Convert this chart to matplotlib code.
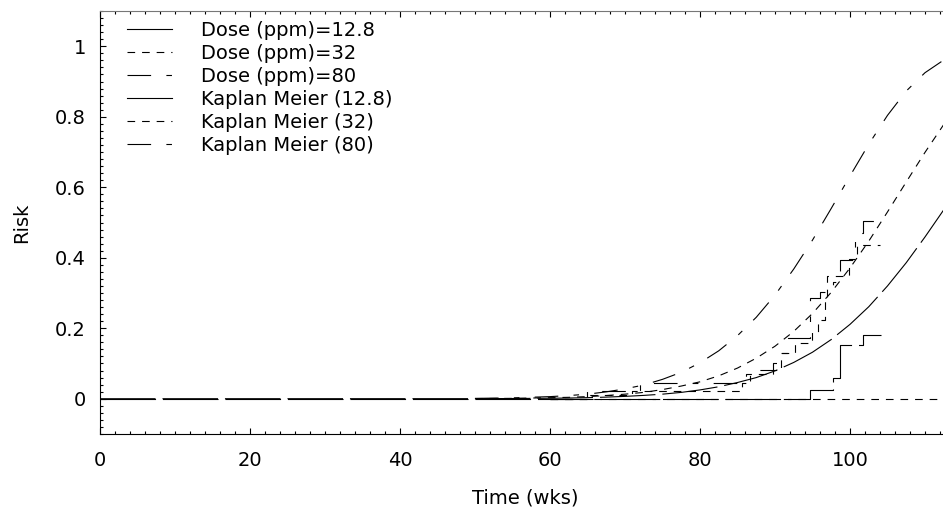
import matplotlib
matplotlib.use("Agg")
import matplotlib.pyplot as plt
from matplotlib.lines import Line2D
from matplotlib.ticker import MultipleLocator

plt.rcParams["font.family"] = ["DejaVu Sans"]
plt.rcParams["lines.scale_dashes"] = False

# fitted risk curves
model_x = [0, 50, 55, 60, 62.5, 65, 67.5, 70, 72.5, 75, 77.5, 80, 82.5, 85, 87.5,
           90, 92.5, 95, 97.5, 100, 102.5, 105, 107.5, 110, 112.5]
risk_12_8 = [0, 0.0002, 0.0006, 0.0014, 0.002, 0.003, 0.0046, 0.0067, 0.0095, 0.013,
             0.018, 0.025, 0.034, 0.046, 0.060, 0.079, 0.103, 0.132, 0.168, 0.211,
             0.261, 0.320, 0.386, 0.459, 0.536]
risk_32 = [0, 0.0005, 0.001, 0.003, 0.004, 0.006, 0.009, 0.013, 0.018, 0.026,
           0.036, 0.048, 0.065, 0.087, 0.115, 0.149, 0.191, 0.242, 0.302, 0.371,
           0.447, 0.530, 0.615, 0.699, 0.778]
risk_80 = [0, 0.001, 0.0025, 0.006, 0.009, 0.013, 0.0195, 0.028, 0.039, 0.055,
           0.075, 0.102, 0.136, 0.179, 0.231, 0.294, 0.368, 0.450, 0.540, 0.632,
           0.722, 0.804, 0.873, 0.925, 0.961]

# Kaplan Meier step estimates
km_12_8_t = [0, 94.7, 97.7, 98.7, 101.8, 104.1]
km_12_8_r = [0, 0.026, 0.06, 0.153, 0.18, 0.18]
km_32_t = [60, 65.0, 70.9, 85.6, 86.2, 89.8, 90.8, 92.7, 95.0, 95.7, 96.7, 97.0,
           99.9, 101.0, 104.0]
km_32_r = [0, 0.012, 0.021, 0.045, 0.071, 0.082, 0.13, 0.159, 0.19, 0.224, 0.28,
           0.347, 0.397, 0.437, 0.437]
km_80_t = [60, 64.9, 72.0, 86.7, 89.8, 90.7, 91.8, 94.7, 96.0, 97.7, 98.7, 100.7,
           101.8, 104.0]
km_80_r = [0, 0.021, 0.045, 0.082, 0.10, 0.13, 0.173, 0.287, 0.304, 0.33, 0.395,
           0.469, 0.503, 0.503]
# zero line running out to the right edge
zero_t = [60, 112.5]
zero_r = [0, 0]

dash_12_8 = (40, 5)
dash_32 = (5.5, 5)
dash_80 = (17, 11, 4, 11)

fig = plt.figure(figsize=(9.43, 5.08), dpi=100)
ax = fig.add_axes([0.106, 0.1457, 0.894, 0.8326])

lw = 0.8
ax.plot(model_x, risk_12_8, color="black", lw=lw, dashes=dash_12_8)
ax.plot(model_x[1:], risk_32[1:], color="black", lw=lw, dashes=dash_32)
ax.plot(model_x[1:], risk_80[1:], color="black", lw=lw, dashes=dash_80)
ax.step(km_12_8_t, km_12_8_r, where="post", color="black", lw=lw, dashes=dash_12_8)
ax.step(km_32_t, km_32_r, where="post", color="black", lw=lw, dashes=dash_32)
ax.step(km_80_t, km_80_r, where="post", color="black", lw=lw, dashes=dash_80)
ax.plot(zero_t, zero_r, color="black", lw=lw, dashes=dash_32)

handles = [
    Line2D([], [], color="black", lw=lw),
    Line2D([], [], color="black", lw=lw, dashes=dash_32),
    Line2D([], [], color="black", lw=lw, dashes=dash_80),
    Line2D([], [], color="black", lw=lw),
    Line2D([], [], color="black", lw=lw, dashes=dash_32),
    Line2D([], [], color="black", lw=lw, dashes=dash_80),
]
labels = ["Dose (ppm)=12.8", "Dose (ppm)=32", "Dose (ppm)=80",
          "Kaplan Meier (12.8)", "Kaplan Meier (32)", "Kaplan Meier (80)"]
ax.legend(handles, labels, loc="upper left", bbox_to_anchor=(0.032, 0.976),
          frameon=False, fontsize=14, handlelength=2.3, handletextpad=1.5,
          labelspacing=0.2, borderpad=0, borderaxespad=0)

ax.set_xlim(0, 112.4)
ax.set_ylim(-0.1, 1.1)
ax.xaxis.set_major_locator(MultipleLocator(20))
ax.xaxis.set_minor_locator(MultipleLocator(2))
ax.yaxis.set_major_locator(MultipleLocator(0.2))
ax.yaxis.set_minor_locator(MultipleLocator(0.02))
ax.set_yticks([0, 0.2, 0.4, 0.6, 0.8, 1.0])
ax.set_yticklabels(["0", "0.2", "0.4", "0.6", "0.8", "1"])

ax.tick_params(which="both", direction="in", top=True, right=False, width=0.8)
ax.tick_params(which="major", length=4.5, labelsize=14)
ax.tick_params(which="minor", length=2.2)
ax.tick_params(axis="x", pad=12)
ax.tick_params(axis="y", pad=10)
ax.spines["right"].set_visible(False)
ax.spines["top"].set_color("#777777")
ax.spines["left"].set_linewidth(0.8)
ax.spines["bottom"].set_linewidth(0.8)

ax.set_xlabel("Time (wks)", fontsize=14)
ax.set_ylabel("Risk", fontsize=14)
ax.xaxis.set_label_coords(0.505, -0.128)
ax.yaxis.set_label_coords(-0.082, 0.5)

fig.savefig("out.png", dpi=100)
plt.close(fig)
